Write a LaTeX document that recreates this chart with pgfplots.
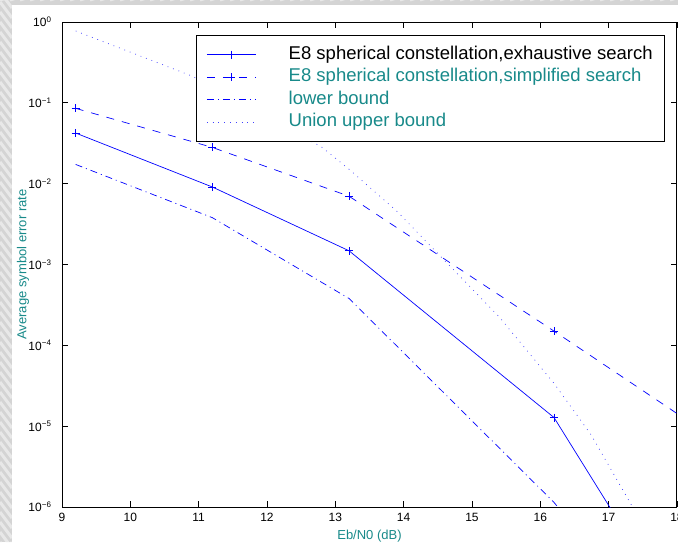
\documentclass[border=0pt]{standalone}
\usepackage{fontspec}
\setmainfont{Liberation Sans}
\usepackage{pgfplots}
\pgfplotsset{compat=1.18}
\definecolor{lbl}{RGB}{24,138,138}
\definecolor{bgg}{RGB}{212,212,212}
\definecolor{bgl}{RGB}{232,232,232}
\begin{document}
\begin{tikzpicture}[x=1pt,y=1pt]
  % slide background
  \fill[bgg] (0,0) rectangle (678,542);
  \begin{scope}
    \clip (0,0) rectangle (12,542) (0,537) rectangle (678,542);
    \foreach \i in {-20,-10,...,700}
      \draw[bgl, line width=3pt] (\i,0) -- (\i+12,-20) (\i,542) -- (\i+20,548) (0,\i) -- (12,\i-16);
  \end{scope}
  \fill[white] (12,0) rectangle (678,537);
  \begin{axis}[at={(62pt,35pt)}, anchor=south west,
      width=615pt, height=485pt, scale only axis,
      xmin=9, xmax=18, ymin=1e-6, ymax=1,
      ymode=log, log basis y=10, yminorticks=false,
      xtick={9,...,18},
      ytick={1e-6,1e-5,1e-4,1e-3,1e-2,1e-1,1},
      yticklabels={10\textsuperscript{−6},10\textsuperscript{−5},10\textsuperscript{−4},
        10\textsuperscript{−3},10\textsuperscript{−2},10\textsuperscript{−1},10\textsuperscript{0}},
      /pgf/number format/assume math mode=true,
      tick align=inside, major tick length=6pt,
      tick style={black, line width=0.7pt},
      axis line style={line width=1pt},
      ticklabel style={font=\fontsize{12}{12}\selectfont},
      xticklabel style={yshift=-3pt},
      yticklabel style={xshift=-7pt},
      xlabel={Eb/N0 (dB)}, ylabel={Average symbol error rate},
      label style={font=\fontsize{13}{13}\selectfont, text=lbl},
      xlabel style={at={([yshift=-29pt]axis description cs:0.5,0)}, anchor=center},
      ylabel style={at={([xshift=-39pt]axis description cs:0,0.5)}, anchor=center},
      legend style={at={(rel axis cs:0.218,0.973)}, anchor=north west,
        draw=black, line width=0.9pt, fill=white,
        inner xsep=10pt, inner ysep=9pt,
        font=\fontsize{18.5}{18.5}\selectfont, row sep=2.5pt, column sep=31pt,
        nodes={inner sep=1.5pt, text height=13pt, text depth=4pt}},
      legend cell align=left,
      legend image code/.code={
        \draw[mark repeat=2, mark phase=2] plot coordinates {(0pt,0pt)(24.5pt,0pt)(49pt,0pt)};},
      every axis plot/.append style={blue, line width=0.7pt},
      mark size=4pt]

    \addplot[mark=+, mark options={solid}] coordinates {
      (9.2,0.0423)(11.2,0.0091)(13.2,0.00148)(16.2,1.28e-5)(17.2,5.6e-7)};
    \addlegendentry{E8 spherical constellation,exhaustive search}

    \addplot[mark=+, mark options={solid}, dash pattern=on 8pt off 8pt] coordinates {
      (9.2,0.0855)(11.2,0.0281)(13.2,0.0070)(16.2,1.5e-4)(19.2,3.0e-6)};
    \addlegendentry{\textcolor{lbl}{E8 spherical constellation,simplified search}}

    \addplot[dash pattern=on 7pt off 4pt on 1pt off 4pt] coordinates {
      (9.2,0.0173)(11.2,0.0038)(13.2,0.00038)(16.2,1.14e-6)(17.2,1.1e-7)};
    \addlegendentry{\textcolor{lbl}{lower bound}}

    \addplot[blue!75, dash pattern=on 0.8pt off 5pt] coordinates {
      (9.2,0.775)(10.9,0.215)(12.8,0.0284)(13.2,0.0151)(13.9,0.00457)
      (15.4,2.24e-4)(16.2,3.39e-5)(16.74,7.9e-6)(17.33,1.07e-6)(17.6,4e-7)};
    \addlegendentry{\textcolor{lbl}{Union upper bound}}
  \end{axis}
  \pgfresetboundingbox
  \useasboundingbox (0,0) rectangle (678,542);
\end{tikzpicture}
\end{document}
